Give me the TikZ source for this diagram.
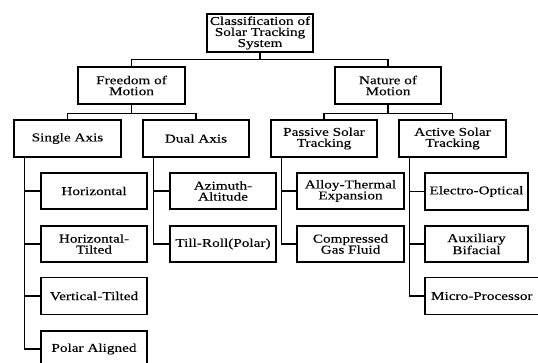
\documentclass[tikz,border=0pt]{standalone}
\usepackage{fontspec}
\setmainfont[FakeStretch=1.27,FakeBold=0.2]{Liberation Serif}
\begin{document}
\begin{tikzpicture}[x=1pt,y=-1pt,
  box/.style={draw=black,line width=1.4pt,align=center,inner sep=0pt,
    font=\fontsize{12}{11}\selectfont,text=black},
  conn/.style={draw=black,line width=1.3pt}]
\useasboundingbox (0,0) rectangle (538,363);
\node[box,minimum width=106pt,minimum height=38pt] (root) at (260,33) {Classification of\\Solar Tracking\\System};
\node[box,minimum width=107pt,minimum height=37pt] (free) at (131.5,85.5) {Freedom of\\Motion};
\node[box,minimum width=106pt,minimum height=37pt] (nat) at (388,85.5) {Nature of\\Motion};
\node[box,minimum width=107pt,minimum height=37pt] (single) at (67.5,138.5) {Single Axis};
\node[box,minimum width=106pt,minimum height=37pt] (dual) at (196,138.5) {Dual Axis};
\node[box,minimum width=106pt,minimum height=37pt] (pass) at (324,138.5) {Passive Solar\\Tracking};
\node[box,minimum width=107pt,minimum height=37pt] (act) at (452.5,138.5) {Active Solar\\Tracking};
% single axis children
\node[box,minimum width=106pt,minimum height=36pt] (hor) at (94,191) {Horizontal};
\node[box,minimum width=106pt,minimum height=36pt] (ht) at (94,244) {Horizontal-\\Tilted};
\node[box,minimum width=106pt,minimum height=37pt] (vt) at (94,296) {Vertical-Tilted};
\node[box,minimum width=106pt,minimum height=36pt] (pa) at (94,349) {Polar Aligned};
% dual axis children
\node[box,minimum width=106pt,minimum height=36pt] (az) at (223,191) {Azimuth-\\Altitude};
\node[box,minimum width=106pt,minimum height=36pt] (tr) at (223,244) {Till-Roll(Polar)};
% passive children
\node[box,minimum width=107pt,minimum height=36pt] (at) at (350.5,191) {Alloy-Thermal\\Expansion};
\node[box,minimum width=107pt,minimum height=36pt] (cg) at (350.5,244) {Compressed\\Gas Fluid};
% active children
\node[box,minimum width=103pt,minimum height=37pt] (eo) at (476.5,191.5) {Electro-Optical};
\node[box,minimum width=103pt,minimum height=36pt] (ab) at (476.5,244) {Auxiliary\\Bifacial};
\node[box,minimum width=120pt,minimum height=37pt,text width=114pt,align=left] (mp) at (485,296) {\hspace*{3pt}Micro-Processor};
% connectors
\draw[conn] (root.south) -- ++(0,7) -| (free.north);
\draw[conn] (root.south) -- ++(0,7) -| (nat.north);
\draw[conn] (free.south) -- ++(0,9) -| (single.north);
\draw[conn] (free.south) -- ++(0,9) -| (dual.north);
\draw[conn] (nat.south) -- ++(0,9) -| (pass.north);
\draw[conn] (nat.south) -- ++(0,9) -| (act.north);
\foreach \c in {hor,ht,vt,pa} \draw[conn] ([xshift=11pt]single.south west) |- (\c.west);
\foreach \c in {az,tr} \draw[conn] ([xshift=11pt]dual.south west) |- (\c.west);
\foreach \c in {at,cg} \draw[conn] ([xshift=11pt]pass.south west) |- (\c.west);
\foreach \c in {eo,ab,mp} \draw[conn] ([xshift=11pt]act.south west) |- (\c.west);
\end{tikzpicture}
\end{document}
